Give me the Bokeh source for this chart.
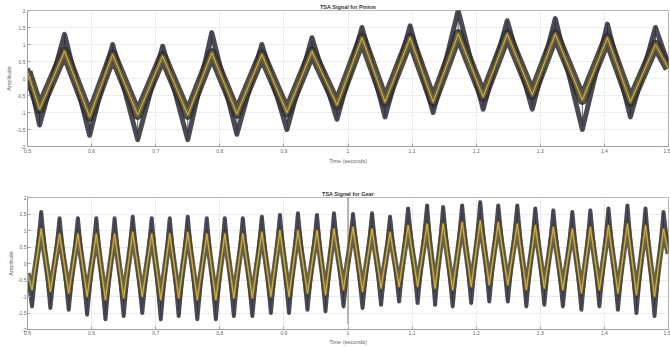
from bokeh.plotting import figure
from bokeh.layouts import column
from bokeh.models import FixedTicker, Range1d
from bokeh.embed import file_html
from bokeh.resources import INLINE

# ---------------- data ----------------
x_ticks = [0.5, 0.6, 0.7, 0.8, 0.9, 1.0, 1.1, 1.2, 1.3, 1.4, 1.5]
x_tick_labels = ["0.5", "0.6", "0.7", "0.8", "0.9", "1", "1.1", "1.2", "1.3", "1.4", "1.5"]
y_ticks = [-2, -1.5, -1, -0.5, 0, 0.5, 1, 1.5, 2]
y_tick_labels = ["-2", "-1.5", "-1", "-0.5", "0", "0.5", "1", "1.5", "2"]

# Pinion: extrema of the signal (time, TSA mean, most extreme revolution)
pinion_t = [0.5, 0.5188, 0.5578, 0.5969, 0.6328, 0.6719, 0.7109, 0.75, 0.7875, 0.8266,
            0.8656, 0.9047, 0.9438, 0.9828, 1.0219, 1.0578, 1.0969, 1.1328, 1.1719, 1.2109,
            1.2484, 1.2875, 1.3234, 1.3656, 1.4047, 1.4406, 1.4797, 1.5]
pinion_mean = [0.2, -0.9, 0.8, -1.13, 0.71, -1.07, 0.66, -1.07, 0.75, -1.04,
               0.71, -1.0, 0.8, -0.78, 1.2, -0.69, 1.2, -0.69, 1.31, -0.54,
               1.31, -0.48, 1.31, -0.63, 1.2, -0.69, 1.0, 0.3]
pinion_env = [0.3, -1.37, 1.3, -1.67, 1.0, -1.8, 0.95, -1.8, 1.35, -1.64,
              1.0, -1.5, 1.2, -1.2, 1.5, -1.13, 1.55, -1.0, 2.0, -0.9,
              1.7, -0.9, 1.76, -1.5, 1.6, -1.13, 1.5, 0.4]

# Gear: peaks and troughs
gear_peak_t = [0.5214, 0.55, 0.5786, 0.6073, 0.6359, 0.6641, 0.6938, 0.7219, 0.75, 0.7797,
               0.8078, 0.8359, 0.8656, 0.8938, 0.9219, 0.9516, 0.9781, 1.0078, 1.0375, 1.0656,
               1.0938, 1.1234, 1.1484, 1.1781, 1.2063, 1.2344, 1.2641, 1.2922, 1.3203, 1.35,
               1.3781, 1.4063, 1.4359, 1.4641, 1.4922]
gear_peak_mean = [1.05, 0.9, 0.9, 0.9, 0.9, 0.95, 0.9, 0.9, 0.95, 0.9,
                  0.9, 0.9, 0.95, 1.0, 1.0, 1.0, 1.05, 1.1, 1.05, 0.95,
                  1.15, 1.2, 1.2, 1.25, 1.3, 1.25, 1.2, 1.15, 1.1, 1.05,
                  1.1, 1.15, 1.2, 1.15, 1.05]
gear_peak_env = [1.56, 1.37, 1.37, 1.37, 1.37, 1.42, 1.37, 1.37, 1.42, 1.37,
                 1.37, 1.37, 1.42, 1.47, 1.52, 1.47, 1.52, 1.5, 1.52, 1.42,
                 1.67, 1.76, 1.71, 1.76, 1.86, 1.76, 1.76, 1.67, 1.61, 1.56,
                 1.61, 1.67, 1.76, 1.67, 1.56]
gear_trough_t = [0.5071, 0.5357, 0.5643, 0.593, 0.6216, 0.65, 0.679, 0.7079, 0.7359, 0.7649,
                 0.7938, 0.8219, 0.8508, 0.8797, 0.9079, 0.9368, 0.9649, 0.993, 1.0227, 1.0516,
                 1.0797, 1.1086, 1.1359, 1.1633, 1.1922, 1.2204, 1.2493, 1.2782, 1.3063, 1.3352,
                 1.3641, 1.3922, 1.4211, 1.45, 1.4782]
gear_trough_mean = [-0.8, -0.85, -0.9, -1.0, -1.1, -1.05, -1.0, -1.1, -1.05, -1.1,
                    -1.1, -1.05, -1.05, -1.0, -1.0, -0.9, -0.95, -0.8, -0.85, -0.75,
                    -0.7, -0.7, -0.75, -0.8, -0.7, -0.65, -0.65, -0.8, -0.75, -0.8,
                    -0.9, -0.8, -0.9, -0.95, -1.0]
gear_trough_env = [-1.3, -1.35, -1.4, -1.55, -1.69, -1.59, -1.5, -1.69, -1.59, -1.69,
                   -1.69, -1.59, -1.59, -1.5, -1.5, -1.4, -1.45, -1.3, -1.35, -1.25,
                   -1.15, -1.2, -1.25, -1.3, -1.2, -1.15, -1.15, -1.3, -1.25, -1.3,
                   -1.4, -1.3, -1.4, -1.5, -1.59]
gear_start = [0.5, -0.3]
gear_end = [1.5, 0.3]
gear_spike_t = [1.0, 1.0]
gear_spike_y = [-1.85, 2.05]

# ---------------- build ----------------
def merge(start, end, pt, pv, tt, tv):
    pts = [(start[0], start[1])] + list(zip(pt, pv)) + list(zip(tt, tv)) + [(end[0], end[1])]
    pts.sort(key=lambda a: a[0])
    return [a[0] for a in pts], [a[1] for a in pts]

gear_t, gear_mean = merge(gear_start, gear_end, gear_peak_t, gear_peak_mean, gear_trough_t, gear_trough_mean)
_, gear_env = merge(gear_start, gear_end, gear_peak_t, gear_peak_env, gear_trough_t, gear_trough_env)

FONT = "Liberation Sans"

def make_fig(title, t, mean, env, height, top, bottom, band_w, env_w, band_col, core_col, lab_so):
    p = figure(width=670, height=height, output_backend="svg", toolbar_location=None,
               x_range=Range1d(0.5, 1.5), y_range=Range1d(-2, 2),
               min_border_left=27, min_border_right=2, min_border_top=top,
               min_border_bottom=bottom)
    p.title.text = title
    p.title.align = "center"
    p.title.text_font = FONT
    p.title.text_font_size = "5.5px"
    p.title.text_font_style = "bold"
    p.title.text_color = "#333333"
    p.title.standoff = 1
    p.background_fill_color = "white"
    p.border_fill_color = "white"
    p.outline_line_color = "#b8b8b8"

    for ax, ticks, labels in ((p.xaxis, x_ticks, x_tick_labels), (p.yaxis, y_ticks, y_tick_labels)):
        ax.ticker = FixedTicker(ticks=ticks)
        ax.major_label_overrides = {k: v for k, v in zip(ticks, labels)}
        ax.major_label_text_font = FONT
        ax.major_label_text_font_size = "5px"
        ax.major_label_text_color = "#666666"
        ax.major_label_standoff = lab_so
        ax.major_tick_in = 3
        ax.major_tick_out = 0
        ax.minor_tick_line_color = None
        ax.axis_line_color = "#a0a0a0"
        ax.major_tick_line_color = "#a0a0a0"
        ax.axis_label_text_font = FONT
        ax.axis_label_text_font_size = "5.5px"
        ax.axis_label_text_font_style = "normal"
        ax.axis_label_text_color = "#666666"
        ax.axis_label_standoff = lab_so
    p.xaxis.axis_label = "Time (seconds)"
    p.yaxis.axis_label = "Amplitude"
    p.xgrid.ticker = FixedTicker(ticks=x_ticks)
    p.ygrid.ticker = FixedTicker(ticks=y_ticks)
    p.grid.grid_line_color = "#ececec"

    # spread of all revolutions: widest revolution and the band around the mean
    p.line(t, env, line_width=env_w, line_color="#1e1e24", line_alpha=0.8, line_join="round")
    p.line(t, mean, line_width=band_w, line_color=band_col, line_alpha=0.85, line_join="round")
    # thin noisy hairs at the extremes
    p.segment(t, mean, t, env, line_width=1, line_color="#2a2438", line_alpha=0.7)
    p.line(t, env, line_width=0.8, line_color="#54467e", line_alpha=0.45, line_join="round")
    # olive core and the TSA mean
    p.line(t, mean, line_width=band_w * 0.4, line_color=core_col, line_alpha=0.85, line_join="round")
    p.line(t, mean, line_width=1.0, line_color="#dcb842", line_alpha=0.95, line_join="round")
    return p

p1 = make_fig("TSA Signal for Pinion", pinion_t, pinion_mean, pinion_env, 175, 10, 29,
              10, 5, "#2f2e2b", "#7a6d38", 2)
p2 = make_fig("TSA Signal for Gear", gear_t, gear_mean, gear_env, 172, 22, 14,
              6, 4, "#4a4634", "#8a7b3a", 1)
p2.line(gear_spike_t, gear_spike_y, line_width=1, line_color="#7a6448", line_alpha=0.9)

layout = column(p1, p2, spacing=0)
open("out.html", "w").write(file_html(layout, INLINE))
